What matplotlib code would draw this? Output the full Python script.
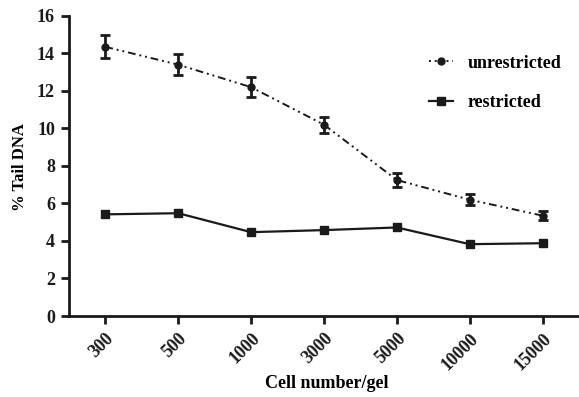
import matplotlib
matplotlib.use("Agg")
import matplotlib.pyplot as plt
from matplotlib.lines import Line2D

# ---------------- DATA ----------------
cell_numbers = ["300", "500", "1000", "3000", "5000", "10000", "15000"]
unrestricted = [14.35, 13.4, 12.2, 10.2, 7.25, 6.2, 5.35]
unrestricted_err = [0.62, 0.55, 0.55, 0.42, 0.35, 0.3, 0.25]
restricted = [5.42, 5.48, 4.47, 4.58, 4.72, 3.83, 3.88]

plt.rcParams["font.family"] = ["Liberation Serif", "DejaVu Serif"]
plt.rcParams["font.weight"] = "bold"

INK = "#1a1a1a"
DASH = (0, (4, 2, 1, 2, 1, 2))

# ---------------- PLOT ----------------
fig = plt.figure(figsize=(5.79, 3.97), dpi=100)
ax = fig.add_axes([0.119, 0.204, 0.881, 0.756])

x = range(len(cell_numbers))
ax.errorbar(x, unrestricted, yerr=unrestricted_err, fmt="o", ls=DASH,
            color=INK, lw=1.4, ms=5, elinewidth=2, capsize=3.5, capthick=2)
ax.plot(x, restricted, marker="s", color=INK, lw=1.6, ms=6)

ax.set_xlim(-0.5, 6.5)
ax.set_ylim(0, 16)
ax.set_yticks(range(0, 17, 2))
ax.set_xticks(list(x))
ax.set_xticklabels(cell_numbers, rotation=45, ha="right", rotation_mode="anchor")

for s in ["top", "right"]:
    ax.spines[s].set_visible(False)
for s in ["left", "bottom"]:
    ax.spines[s].set_linewidth(2)
    ax.spines[s].set_color(INK)
ax.tick_params(width=2, length=6, labelsize=13, colors=INK, pad=4)
for lab in ax.get_xticklabels() + ax.get_yticklabels():
    lab.set_fontweight("bold")

ax.set_xlabel("Cell number/gel", fontsize=13, fontweight="bold")
ax.xaxis.set_label_coords(0.506, -0.198)
ax.set_ylabel("% Tail DNA", fontsize=12, fontweight="bold")
ax.yaxis.set_label_coords(-0.08, 0.497)

handles = [
    Line2D([], [], ls=(0, (1, 2)), marker="o", color=INK, lw=1.4, ms=5),
    Line2D([], [], ls="-", marker="s", color=INK, lw=1.6, ms=6),
]
fig.legend(handles, ["unrestricted", "restricted"], loc="upper left",
           bbox_to_anchor=(0.713, 0.903), frameon=False, fontsize=13,
           handlelength=1.3, handletextpad=0.85, labelspacing=1.25)

fig.savefig("out.png", dpi=100)
